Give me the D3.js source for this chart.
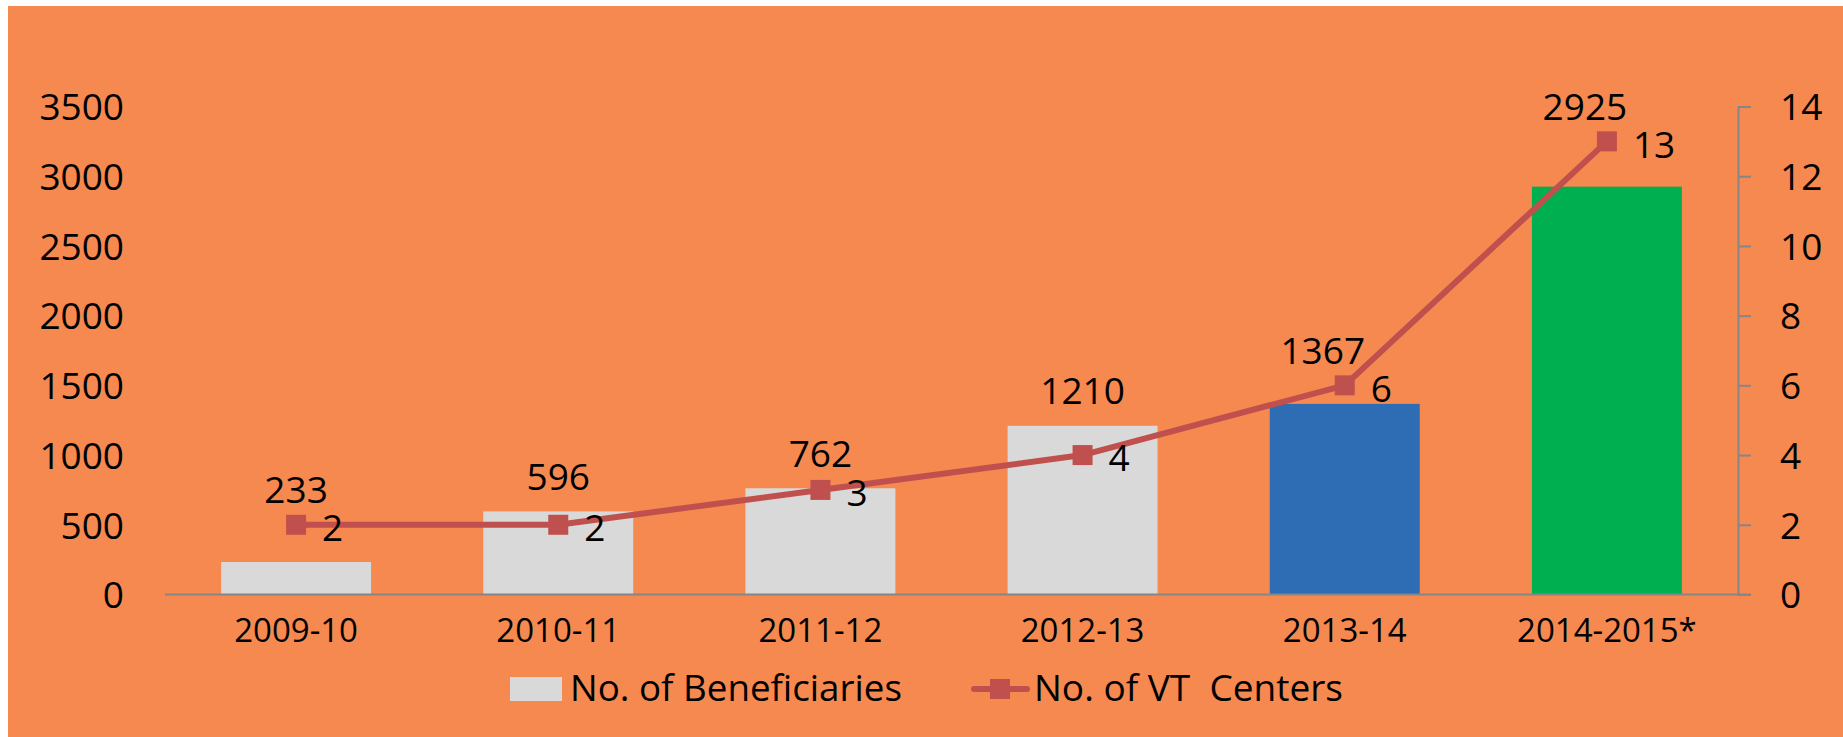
<!DOCTYPE html>
<html>
<head>
<meta charset="utf-8">
<script src="https://cdn.jsdelivr.net/npm/d3@7"></script>
<style>
  html, body { margin: 0; padding: 0; background: #ffffff; }
  svg { display: block; }
  text { font-family: "Open Sans", "Noto Sans", sans-serif; fill: #000; }
</style>
</head>
<body>
<svg id="chart" width="1843" height="737"></svg>
<script>
// Chart data
const categories = ["2009-10", "2010-11", "2011-12", "2012-13", "2013-14", "2014-2015*"];
const beneficiaries = [233, 596, 762, 1210, 1367, 2925];
const vtCenters = [2, 2, 3, 4, 6, 13];
const barColors = ["#D9D9D9", "#D9D9D9", "#D9D9D9", "#D9D9D9", "#2E6DB4", "#00B050"];
const leftTicks = [0, 500, 1000, 1500, 2000, 2500, 3000, 3500];
const rightTicks = [0, 2, 4, 6, 8, 10, 12, 14];
const legendLabels = ["No. of Beneficiaries", "No. of VT  Centers"];

const W = 1843, H = 737;
const plot = { left: 165, right: 1738, top: 106.5, bottom: 594.5 };
const lineColor = "#C0504D";
const axisColor = "#868686";
const tickFont = 37;

const svg = d3.select("#chart");

// background panel
svg.append("rect").attr("x", 0).attr("y", 0).attr("width", W).attr("height", H).attr("fill", "#ffffff");
svg.append("rect").attr("x", 8).attr("y", 6).attr("width", W - 8).attr("height", H - 6).attr("fill", "#F58950");

const x = d3.scaleBand().domain(categories).range([plot.left, plot.right]).paddingInner(0.428).paddingOuter(0.214);
const yL = d3.scaleLinear().domain([0, 3500]).range([plot.bottom, plot.top]);
const yR = d3.scaleLinear().domain([0, 14]).range([plot.bottom, plot.top]);
const cx = c => x(c) + x.bandwidth() / 2;

// left axis: labels only
const leftAxis = svg.append("g").attr("transform", `translate(${plot.left},0)`)
  .call(d3.axisLeft(yL).tickValues(leftTicks).tickFormat(d3.format("d")).tickSize(0).tickPadding(41));
leftAxis.select(".domain").remove();
leftAxis.selectAll("text").style("font-size", tickFont + "px").attr("dy", "0.36em")
  .style("font-family", "'Open Sans', sans-serif");

// right axis with outward ticks
const rightAxis = svg.append("g").attr("transform", `translate(${plot.right},0)`)
  .call(d3.axisRight(yR).tickValues(rightTicks).tickFormat(d3.format("d")).tickSize(13).tickSizeOuter(0).tickPadding(29));
rightAxis.select(".domain").attr("stroke", axisColor).attr("stroke-width", 2);
rightAxis.selectAll(".tick line").attr("stroke", axisColor).attr("stroke-width", 2);
rightAxis.selectAll("text").style("font-size", tickFont + "px").attr("dy", "0.36em")
  .style("font-family", "'Open Sans', sans-serif");

// bars
svg.append("g").selectAll("rect").data(categories).join("rect")
  .attr("x", c => x(c))
  .attr("width", x.bandwidth())
  .attr("y", (c, i) => yL(beneficiaries[i]))
  .attr("height", (c, i) => plot.bottom - yL(beneficiaries[i]))
  .attr("fill", (c, i) => barColors[i]);

// category axis
const bottomAxis = svg.append("g").attr("transform", `translate(0,${plot.bottom})`)
  .call(d3.axisBottom(x).tickSize(0).tickPadding(36));
bottomAxis.select(".domain").remove();
bottomAxis.selectAll("text").style("font-size", "33px").attr("dy", "0.36em")
  .style("font-family", "'Open Sans', sans-serif");
svg.append("line")
  .attr("x1", plot.left).attr("x2", plot.right + 13)
  .attr("y1", plot.bottom).attr("y2", plot.bottom)
  .attr("stroke", axisColor).attr("stroke-width", 2);

// VT centres line
const line = d3.line().x((d, i) => cx(categories[i])).y(d => yR(d));
svg.append("path").datum(vtCenters)
  .attr("d", line).attr("fill", "none")
  .attr("stroke", lineColor).attr("stroke-width", 6).attr("stroke-linejoin", "round");

svg.append("g").selectAll("rect").data(vtCenters).join("rect")
  .attr("x", (d, i) => cx(categories[i]) - 10)
  .attr("y", d => yR(d) - 10)
  .attr("width", 20).attr("height", 20)
  .attr("fill", lineColor);

// line value labels, right of each marker
svg.append("g").selectAll("text").data(vtCenters).join("text")
  .attr("x", (d, i) => cx(categories[i]) + 26)
  .attr("y", d => yR(d) + 3)
  .attr("dy", "0.36em")
  .style("font-size", tickFont + "px")
  .text(d => d);

// bar value labels, placed above the bar or the line marker, whichever is higher;
// when the line climbs over the bar the label steps left out of its way
svg.append("g").selectAll("text").data(beneficiaries).join("text")
  .attr("text-anchor", "middle")
  .attr("x", (d, i) => {
    const barTop = yL(d), pt = yR(vtCenters[i]);
    return cx(categories[i]) + (i > 0 && pt < barTop - 5 ? -22 : 0);
  })
  .attr("y", (d, i) => Math.min(yL(d), yR(vtCenters[i])) - 35)
  .attr("dy", "0.36em")
  .style("font-size", tickFont + "px")
  .text(d => d);

// legend
const lg = svg.append("g");
lg.append("rect").attr("x", 510).attr("y", 677).attr("width", 52).attr("height", 24).attr("fill", barColors[0]);
lg.append("text").attr("x", 570).attr("y", 701)
  .attr("textLength", 332).attr("lengthAdjust", "spacingAndGlyphs")
  .style("font-size", tickFont + "px").text(legendLabels[0]);
lg.append("line").attr("x1", 974).attr("x2", 1027).attr("y1", 689).attr("y2", 689)
  .attr("stroke", lineColor).attr("stroke-width", 6).attr("stroke-linecap", "round");
lg.append("rect").attr("x", 990).attr("y", 679).attr("width", 20).attr("height", 20).attr("fill", lineColor);
lg.append("text").attr("x", 1034).attr("y", 701)
  .attr("textLength", 309).attr("lengthAdjust", "spacingAndGlyphs")
  .attr("xml:space", "preserve").style("white-space", "pre")
  .style("font-size", tickFont + "px").text(legendLabels[1]);
</script>
</body>
</html>
